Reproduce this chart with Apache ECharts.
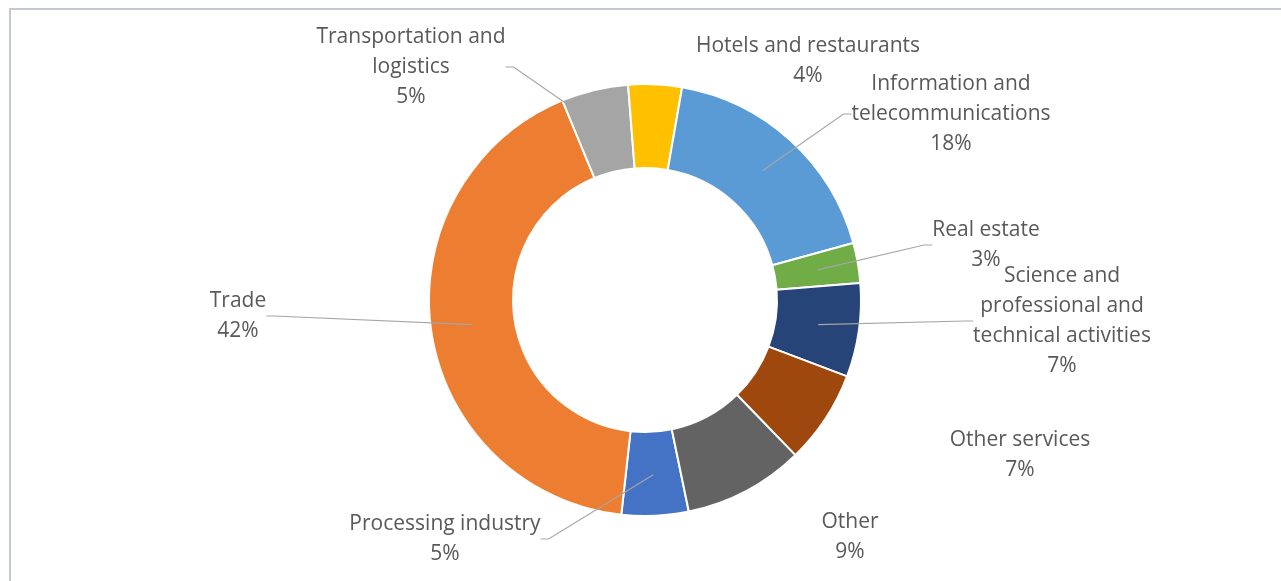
<!DOCTYPE html>
<html>
<head>
<meta charset="utf-8">
<script src="https://cdn.jsdelivr.net/npm/echarts@6/dist/echarts.min.js"></script>
<style>
  html, body { margin: 0; padding: 0; background: #ffffff; }
  #chart { position: absolute; left: 0; top: 0; width: 1281px; height: 581px; }
  #frame { position: absolute; left: 9px; top: 8px; right: 0; bottom: 0;
           border-left: 2px solid #c5cad2; border-top: 2px solid #c5cad2; pointer-events: none; }
</style>
</head>
<body>
<div id="chart"></div>
<div id="frame"></div>
<script>
// Sector shares, in the order the ring is drawn (clockwise)
const sectors = [
  'Processing industry',
  'Trade',
  'Transportation and\nlogistics',
  'Hotels and restaurants',
  'Information and\ntelecommunications',
  'Real estate',
  'Science and\nprofessional and\ntechnical activities',
  'Other services',
  'Other'
];
const shares = [5, 42, 5, 4, 18, 3, 7, 7, 9];

const colors = ['#4472C4', '#ED7D31', '#A5A5A5', '#FFC000', '#5B9BD5',
                '#70AD47', '#264478', '#9E480E', '#636363'];

// Where each label block sits (pixel centre) and which ones carry a leader line
const labelSpots = {
  'Processing industry': [445, 539],
  'Trade': [238, 316],
  'Transportation and\nlogistics': [411, 67],
  'Hotels and restaurants': [808, 61],
  'Information and\ntelecommunications': [951, 114],
  'Real estate': [986, 245],
  'Science and\nprofessional and\ntechnical activities': [1062, 321],
  'Other services': [1020, 455],
  'Other': [850, 537]
};
const noLeader = ['Hotels and restaurants', 'Other services', 'Other'];

const center = [645, 300];
const startAngle = 281.7;

const chart = echarts.init(document.getElementById('chart'), null, { renderer: 'canvas' });

const ringData = sectors.map((n, i) => ({ name: n, value: shares[i], itemStyle: { color: colors[i] } }));
const labelData = sectors.map((n, i) => ({
  name: n, value: shares[i],
  labelLine: { show: noLeader.indexOf(n) < 0 }
}));

chart.setOption({
  animation: false,
  backgroundColor: '#ffffff',
  series: [
    {
      type: 'pie',
      center: center,
      radius: [132, 216],
      startAngle: startAngle,
      clockwise: true,
      silent: true,
      label: { show: false },
      labelLine: { show: false },
      itemStyle: { borderColor: '#ffffff', borderWidth: 2 },
      data: ringData,
      z: 1
    },
    {
      // transparent inner pie that carries the labels; leaders start mid-ring
      type: 'pie',
      center: center,
      radius: [0, 175],
      startAngle: startAngle,
      clockwise: true,
      silent: true,
      itemStyle: { color: 'rgba(0,0,0,0)' },
      emphasis: { disabled: true },
      label: {
        show: true,
        position: 'outside',
        formatter: p => p.name + '\n' + p.value + '%',
        fontFamily: 'Open Sans',
        fontSize: 21,
        lineHeight: 30,
        color: '#595959',
        align: 'center'
      },
      labelLine: {
        show: true,
        length: 10,
        length2: 8,
        lineStyle: { color: '#a6a6a6', width: 1.2 }
      },
      labelLayout: function (params) {
        const name = sectors[params.dataIndex];
        const spot = labelSpots[name];
        return { x: spot[0], y: spot[1], align: 'center', verticalAlign: 'middle', hideOverlap: false, moveOverlap: false };
      },
      data: labelData,
      z: 5
    }
  ]
});
</script>
</body>
</html>
